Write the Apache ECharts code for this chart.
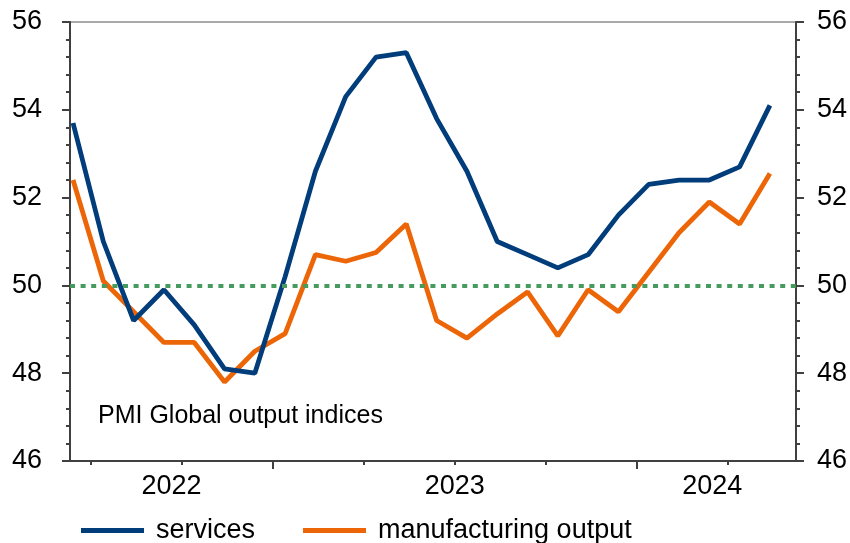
<!DOCTYPE html>
<html>
<head>
<meta charset="utf-8">
<script src="https://cdn.jsdelivr.net/npm/echarts@6/dist/echarts.min.js"></script>
<style>
  html, body { margin: 0; padding: 0; background: #fff; }
  #chart { width: 850px; height: 543px; }
</style>
</head>
<body>
<div id="chart"></div>
<script>
  // months shown on the chart, Jun 2022 .. May 2024
  const months = [
    'Jun 2022', 'Jul 2022', 'Aug 2022', 'Sep 2022', 'Oct 2022', 'Nov 2022', 'Dec 2022',
    'Jan 2023', 'Feb 2023', 'Mar 2023', 'Apr 2023', 'May 2023', 'Jun 2023', 'Jul 2023',
    'Aug 2023', 'Sep 2023', 'Oct 2023', 'Nov 2023', 'Dec 2023',
    'Jan 2024', 'Feb 2024', 'Mar 2024', 'Apr 2024', 'May 2024'
  ];
  const services = [
    53.7, 51.0, 49.2, 49.9, 49.1, 48.1, 48.0,
    50.2, 52.6, 54.3, 55.2, 55.3, 53.8, 52.6,
    51.0, 50.7, 50.4, 50.7, 51.6,
    52.3, 52.4, 52.4, 52.7, 54.1
  ];
  const manufacturing = [
    52.4, 50.1, 49.4, 48.7, 48.7, 47.8, 48.5,
    48.9, 50.7, 50.55, 50.75, 51.4, 49.2, 48.8,
    49.35, 49.85, 48.85, 49.9, 49.4,
    50.3, 51.2, 51.9, 51.4, 52.55
  ];
  const years = ['2022', '2023', '2024'];
  const neutral = 50;

  const font = 'Liberation Sans';
  const axisColor = '#404040';
  const xMin = -0.1, xMax = 23.86;

  // quarter ticks sit just before the first month of each quarter
  let quarterTicks = [], yearTicks = [];
  months.forEach((m, i) => {
    const mon = m.slice(0, 3);
    if (['Jan', 'Apr', 'Jul', 'Oct'].includes(mon)) quarterTicks.push(i - 0.4);
    if (mon === 'Jan') yearTicks.push(i - 0.4);
  });
  // year label centred on the visible part of the year
  let labelPos = [], labelText = [];
  years.forEach(y => {
    const idx = months.map((m, i) => m.endsWith(y) ? i : -1).filter(i => i >= 0);
    const a = Math.max(xMin, idx[0] - 0.4), b = Math.min(xMax, idx[idx.length - 1] + 0.6);
    labelPos.push((a + b) / 2);
    labelText.push(y);
  });
  function yearLabel(v) {
    let k = 0;
    labelPos.forEach((p, i) => { if (Math.abs(p - v) < Math.abs(labelPos[k] - v)) k = i; });
    return labelText[k];
  }

  function makeYAxis(pos, margin) {
    return {
      type: 'value', min: 46, max: 56, interval: 2, position: pos,
      axisLine: { show: true, onZero: false, lineStyle: { color: axisColor, width: 2 } },
      axisTick: { show: true, length: 8, lineStyle: { color: axisColor, width: 2 } },
      minorTick: { show: true, splitNumber: 5, length: 4, lineStyle: { color: axisColor, width: 2 } },
      splitLine: { show: false },
      minorSplitLine: { show: false },
      axisLabel: { color: '#000', fontSize: 27, fontFamily: font, margin: margin }
    };
  }

  const chart = echarts.init(document.getElementById('chart'));

  chart.setOption({
    animation: false,
    grid: {
      left: 70, right: 54, top: 22, bottom: 82,
      show: true, borderColor: '#555', borderWidth: 1
    },
    graphic: [{
      type: 'text', left: 98, top: 404,
      style: { text: 'PMI Global output indices', fill: '#000', font: '25px ' + font }
    }],
    legend: {
      left: 81, top: 517, padding: 0,
      icon: 'rect', itemWidth: 63, itemHeight: 5, itemGap: 48,
      textStyle: { fontSize: 27, fontFamily: font, color: '#000', padding: [0, 0, 0, 7] },
      data: ['services', 'manufacturing output']
    },
    xAxis: [{
      type: 'value', min: xMin, max: xMax, position: 'bottom',
      axisLine: { show: true, onZero: false, lineStyle: { color: axisColor, width: 2 } },
      axisTick: { show: true, customValues: quarterTicks, length: 4, lineStyle: { color: axisColor, width: 2 } },
      axisLabel: {
        customValues: labelPos, margin: 12,
        color: '#000', fontSize: 27, fontFamily: font,
        formatter: v => yearLabel(v)
      },
      splitLine: { show: false }
    }, {
      type: 'value', min: xMin, max: xMax, position: 'bottom', offset: 0,
      axisLine: { show: false, onZero: false },
      axisTick: { show: true, customValues: yearTicks, length: 8, lineStyle: { color: axisColor, width: 2 } },
      axisLabel: { show: false },
      splitLine: { show: false }
    }],
    yAxis: [makeYAxis('left', 28), makeYAxis('right', 21)],
    series: [{
      name: 'services', type: 'line', symbol: 'none',
      color: '#003d7a',
      lineStyle: { width: 4.8, color: '#003d7a' },
      data: services.map((v, i) => [i, v]),
      markLine: {
        silent: true, symbol: ['none', 'none'], label: { show: false },
        lineStyle: { color: '#469a5e', width: 4, type: [5, 5.6] },
        data: [{ yAxis: neutral }]
      },
      z: 3
    }, {
      name: 'manufacturing output', type: 'line', symbol: 'none',
      color: '#ec6608',
      lineStyle: { width: 4.8, color: '#ec6608' },
      data: manufacturing.map((v, i) => [i, v]),
      z: 2
    }]
  });
</script>
</body>
</html>
